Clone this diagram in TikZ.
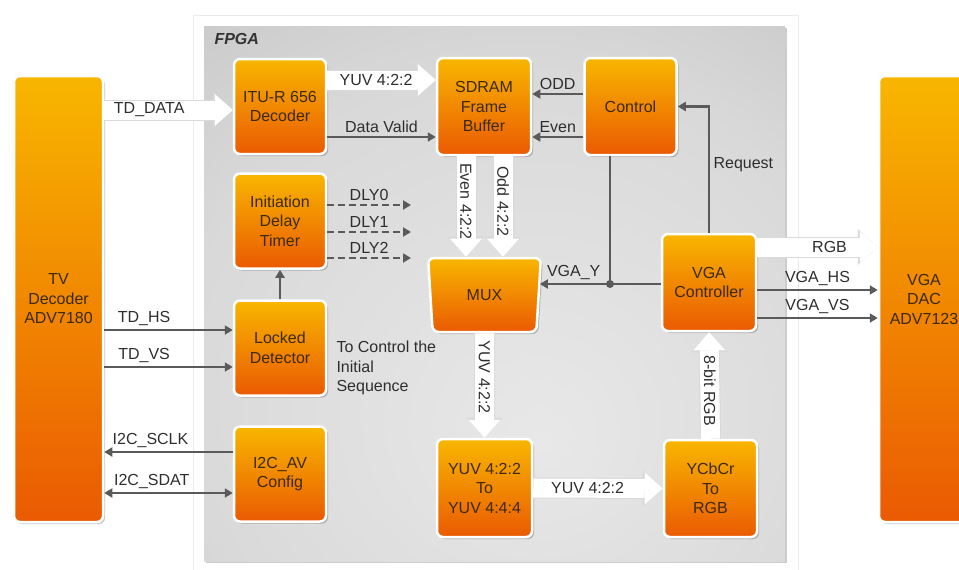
\documentclass[tikz,border=0pt]{standalone}
\usepackage{fontspec}
\setmainfont{Liberation Sans}
\usetikzlibrary{arrows.meta,shapes.geometric,shadows}

\definecolor{boxtop}{HTML}{F8B600}
\definecolor{boxbot}{HTML}{EA5A02}
\definecolor{boxtxt}{HTML}{3C2A0E}
\definecolor{wire}{HTML}{5A5A5A}
\definecolor{lbltxt}{HTML}{2E2E2E}

\pgfdeclareradialshading{fpgabg}{\pgfpoint{4bp}{-14bp}}{gray(0bp)=(0.91); gray(30bp)=(0.85); gray(55bp)=(0.74); gray(85bp)=(0.56)}

\tikzset{
  blk/.style={draw=white, line width=2.5pt, rounded corners=6pt,
    top color=boxtop, bottom color=boxbot, text=boxtxt, align=center,
    inner sep=0pt, minimum width=92pt, minimum height=95pt,
    drop shadow={shadow xshift=2pt, shadow yshift=-2pt, fill=black, opacity=.22}},
  lbl/.style={text=lbltxt},
  sig/.style={draw=wire, line width=2.5pt, ->},
  sig2/.style={draw=wire, line width=2.5pt, <->},
  wireline/.style={draw=wire, line width=2.5pt},
  fat/.style={draw=white, line width=19pt,
    -{Triangle[width=32pt,length=18pt,line width=0pt]},
    preaction={draw=black!15, line width=21pt,
      -{Triangle[width=36pt,length=20pt,line width=0pt]}}},
  dot/.style={circle, fill=wire, inner sep=0pt, minimum size=8pt},
}

\begin{document}
\begin{tikzpicture}[x=1pt, y=-1pt, font=\fontsize{16}{19.5}\selectfont,
    >={Triangle[width=9pt,length=8pt]}]
  \useasboundingbox (0,0) rectangle (959,570);

  % FPGA panel
  \draw[black!8, fill=white] (193,15) rectangle (798,585);
  \fill[black!20] (206,28) rectangle (787,563);
  \shade[shading=fpgabg] (204,26) rectangle (785,561);
  \node[anchor=west, text=black!80, font=\fontsize{16}{19.5}\selectfont\bfseries\itshape] (fpga) at (211,39) {FPGA};

  % chips outside
  \node[blk, minimum width=89pt, minimum height=446pt] (tv) at (58.5,299) {TV\\Decoder\\ADV7180};
  \node[blk, minimum width=90pt, minimum height=446pt] (dac) at (924,299) {VGA\\DAC\\ADV7123};

  % FPGA blocks
  \node[blk] (itu) at (280,106.5) {ITU-R 656\\Decoder};
  \node[blk] (idt) at (280,221) {Initiation\\Delay\\Timer};
  \node[blk] (lck) at (280,348) {Locked\\Detector};
  \node[blk] (i2c) at (280,474) {I2C\_AV\\Config};
  \node[blk, minimum width=94pt, minimum height=97pt] (sdr) at (484,106.5) {SDRAM\\Frame\\Buffer};
  \node[blk, minimum height=97pt] (ctl) at (630.5,106.5) {Control};
  \node[blk, trapezium, trapezium stretches=true, trapezium left angle=82,
    trapezium right angle=82, shape border rotate=180,
    minimum width=113pt, minimum height=74pt] (mux) at (484.5,295) {MUX};
  \node[blk, minimum width=94pt, minimum height=97pt] (vgac) at (709,282.5) {VGA\\Controller};
  \node[blk, minimum width=95pt, minimum height=98pt] (cnv) at (484.5,488) {YUV 4:2:2\\To\\YUV 4:4:4};
  \node[blk, minimum width=93pt, minimum height=97pt] (ycc) at (710.5,488.5) {YCbCr\\To\\RGB};

  % video data (wide arrows)
  \draw[fat] (tv.east |- 0,110) -- (itu.west |- 0,110) node[lbl, pos=.35] {TD\_DATA};
  \draw[fat] (itu.east |- 0,80) -- (sdr.west |- 0,80) node[lbl, pos=.45] {YUV 4:2:2};
  \draw[fat] (sdr.south -| 466,0) -- (mux.north -| 466,0) node[lbl, pos=.45, rotate=-90] {Even 4:2:2};
  \draw[fat] (sdr.south -| 503,0) -- (mux.north -| 503,0) node[lbl, pos=.45, rotate=-90] {Odd 4:2:2};
  \draw[fat] (mux.south) -- (cnv.north) node[lbl, pos=.42, rotate=-90] {YUV 4:2:2};
  \draw[fat] (cnv.east) -- (ycc.west) node[lbl, pos=.42] {YUV 4:2:2};
  \draw[fat] (ycc.north) -- (vgac.south) node[lbl, pos=.45, rotate=-90] {8-bit RGB};
  \draw[fat] (vgac.east |- 0,247) -- (dac.west |- 0,247) node[lbl, pos=.6] {RGB};

  % control signals
  \draw[sig] (itu.east |- 0,137) -- (sdr.west |- 0,137) node[lbl, midway, above] {Data Valid};
  \draw[sig] (ctl.west |- 0,94) -- (sdr.east |- 0,94) node[lbl, midway, above] {ODD};
  \draw[sig] (ctl.west |- 0,137) -- (sdr.east |- 0,137) node[lbl, midway, above] {Even};
  \draw[sig] (vgac.north) |- (ctl.east) node[lbl, pos=.27, right] {Request};

  \node[dot] (jn) at (610,284) {};
  \draw[wireline] (ctl.south -| jn) -- (jn.center);
  \draw[sig] (vgac.west |- jn) -- (mux.east |- jn) node[lbl, pos=.72, above] {VGA\_Y};

  \draw[sig] (vgac.east |- 0,290) -- (dac.west |- 0,290) node[lbl, midway, above] {VGA\_HS};
  \draw[sig] (vgac.east |- 0,318) -- (dac.west |- 0,318) node[lbl, midway, above] {VGA\_VS};

  % delay taps
  \foreach \i/\yy in {0/205,1/232,2/258}{
    \coordinate (dly\i) at (411,\yy);
    \draw[sig, dash pattern=on 7pt off 4pt] (idt.east |- dly\i) -- (dly\i) node[lbl, midway, above] {DLY\i};
  }
  \draw[sig] (lck.north) -- (idt.south);

  % decoder side
  \draw[sig] (tv.east |- 0,330) -- (lck.west |- 0,330) node[lbl, pos=.31, above] {TD\_HS};
  \draw[sig] (tv.east |- 0,367) -- (lck.west |- 0,367) node[lbl, pos=.31, above] {TD\_VS};
  \draw[sig] (i2c.west |- 0,452) -- (tv.east |- 0,452) node[lbl, pos=.64, above] {I2C\_SCLK};
  \draw[sig2] (i2c.west |- 0,493) -- (tv.east |- 0,493) node[lbl, pos=.63, above] {I2C\_SDAT};

  \node[lbl, anchor=west, align=left] (init) at (333,368) {To Control the\\Initial\\Sequence};
\end{tikzpicture}
\end{document}
